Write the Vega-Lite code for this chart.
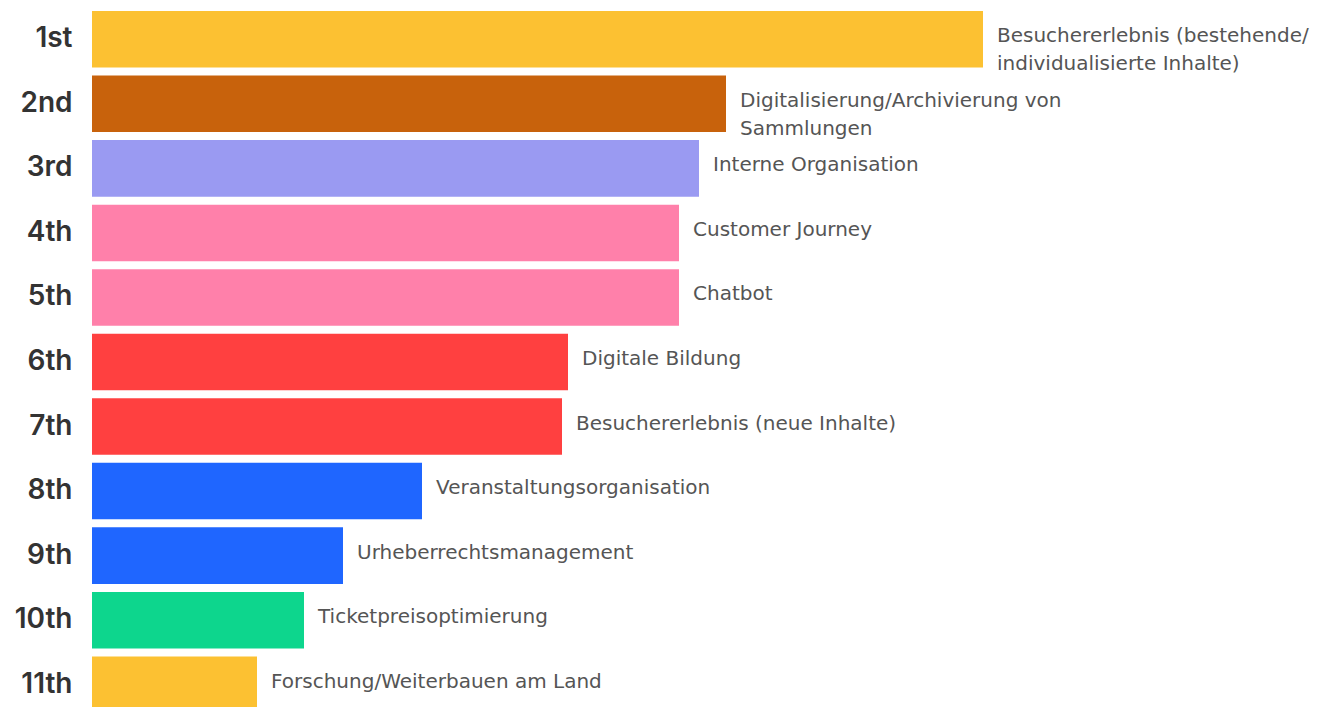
{
  "$schema": "https://vega.github.io/schema/vega-lite/v6.json",
  "width": 1228,
  "height": 714,
  "autosize": {"type": "none"},
  "padding": {"left": 92, "top": 5, "right": 0, "bottom": 0},
  "background": "white",
  "config": {"view": {"stroke": null}},
  "data": {
    "values": [
      {"rank": "1st", "label": "Besuchererlebnis (bestehende/\nindividualisierte Inhalte)", "score": 891},
      {"rank": "2nd", "label": "Digitalisierung/Archivierung von\nSammlungen", "score": 634},
      {"rank": "3rd", "label": "Interne Organisation", "score": 607},
      {"rank": "4th", "label": "Customer Journey", "score": 587},
      {"rank": "5th", "label": "Chatbot", "score": 587},
      {"rank": "6th", "label": "Digitale Bildung", "score": 476},
      {"rank": "7th", "label": "Besuchererlebnis (neue Inhalte)", "score": 470},
      {"rank": "8th", "label": "Veranstaltungsorganisation", "score": 330},
      {"rank": "9th", "label": "Urheberrechtsmanagement", "score": 251},
      {"rank": "10th", "label": "Ticketpreisoptimierung", "score": 212},
      {"rank": "11th", "label": "Forschung/Weiterbauen am Land", "score": 165}
    ]
  },
  "encoding": {
    "y": {
      "field": "rank", "type": "nominal", "sort": null,
      "scale": {"paddingInner": 0.124, "paddingOuter": 0.093},
      "axis": {"title": null, "domain": false, "ticks": false, "labelFontSize": 28, "labelFontWeight": 600, "labelColor": "#333333", "labelFont": "Inter", "labelPadding": 20}
    },
    "x": {
      "field": "score", "type": "quantitative",
      "scale": {"domain": [0, 1228], "nice": false, "zero": true},
      "axis": null
    }
  },
  "layer": [
    {
      "mark": {"type": "bar", "cornerRadius": 0},
      "encoding": {
        "color": {
          "field": "rank", "type": "nominal", "legend": null,
          "scale": {
            "domain": ["1st","2nd","3rd","4th","5th","6th","7th","8th","9th","10th","11th"],
            "range": ["#FCC132","#C8620C","#9A9AF2","#FF80AA","#FF80AA","#FF4040","#FF4040","#1F66FF","#1F66FF","#0DD68D","#FCC132"]
          }
        }
      }
    },
    {
      "mark": {"type": "text", "align": "left", "baseline": "middle", "dx": 14, "dy": -3, "fontSize": 20, "font": "DejaVu Sans", "color": "#555555", "lineBreak": "\n", "lineHeight": 28},
      "encoding": {"text": {"field": "label"}}
    }
  ]
}
